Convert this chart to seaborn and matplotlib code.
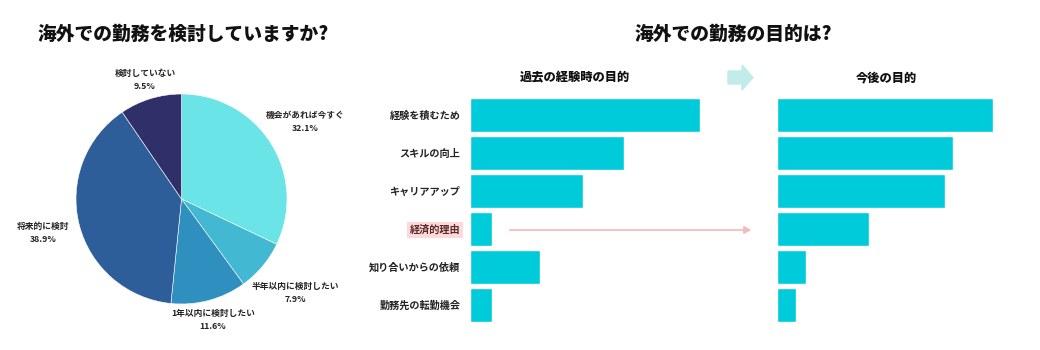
import matplotlib
matplotlib.use("Agg")
import matplotlib.pyplot as plt
import matplotlib.patches as mpatches
import seaborn as sns
import pandas as pd

# データ
pie_labels = ["機会があれば今すぐ", "半年以内に検討したい", "1年以内に検討したい", "将来的に検討", "検討していない"]
pie_values = [32.1, 7.9, 11.6, 38.9, 9.5]
pie_colors = ["#6ae4e6", "#42b8d2", "#2f8fbf", "#2d5e9a", "#2f306a"]

purposes = ["経験を積むため", "スキルの向上", "キャリアアップ", "経済的理由", "知り合いからの依頼", "勤務先の転勤機会"]
past_values = [57, 38.25, 28, 5.5, 17.25, 5.5]
future_values = [53.5, 43.75, 41.75, 22.75, 7.25, 4.75]

sns.set_theme(style="white")
plt.rcParams['font.family'] = ['Noto Sans CJK JP', 'DejaVu Sans']

W, H = 1040, 350
fig = plt.figure(figsize=(10.4, 3.5), dpi=100)
fig.patch.set_facecolor("white")

def fx(px):
    return px / W

def fy(py):
    return 1 - py / H

# 円グラフ
ax_pie = fig.add_axes([fx(76), fy(304), 211 / W, 210 / H])
ax_pie.pie(pie_values, colors=pie_colors, startangle=90, counterclock=False,
           wedgeprops=dict(edgecolor="white", linewidth=0.4), radius=1)
ax_pie.set_xlim(-1, 1)
ax_pie.set_ylim(-1, 1)
ax_pie.set_aspect("auto")
ax_pie.axis("off")

label_pos = [(305, 122), (295, 293), (213, 320), (43, 233), (145, 80)]
for lab, val, (x, y) in zip(pie_labels, pie_values, label_pos):
    fig.text(fx(x), fy(y), f"{lab}\n{val}%", ha="center", va="center",
             fontsize=6.3, fontweight="bold", color="#222222", linespacing=1.6)

fig.text(fx(183), fy(34), "海外での勤務を検討していますか?", ha="center", va="center",
         fontsize=13.5, fontweight="black", color="#111111")
fig.text(fx(733), fy(34), "海外での勤務の目的は?", ha="center", va="center",
         fontsize=13.5, fontweight="black", color="#111111")

# 棒グラフ
bar_color = "#00cbdb"
xmax = 59.5
df_past = pd.DataFrame({"purpose": purposes, "value": past_values})
df_future = pd.DataFrame({"purpose": purposes, "value": future_values})

ax1 = fig.add_axes([fx(470), fy(324), 240 / W, 228 / H])
sns.barplot(data=df_past, x="value", y="purpose", color=bar_color, width=0.89,
            saturation=1, ax=ax1, orient="h")
ax2 = fig.add_axes([fx(777), fy(324), 240 / W, 228 / H])
sns.barplot(data=df_future, x="value", y="purpose", color=bar_color, width=0.89,
            saturation=1, ax=ax2, orient="h")

for ax in (ax1, ax2):
    ax.set_xlim(0, xmax)
    ax.set_ylim(5.5, -0.5)
    ax.set_xlabel("")
    ax.set_ylabel("")
    ax.set_xticks([])
    sns.despine(ax=ax, left=True, bottom=True)
    ax.set_facecolor("none")

ax1.tick_params(axis="y", length=0, pad=7)
for t in ax1.get_yticklabels():
    t.set_fontsize(7.3)
    t.set_fontweight("bold")
    t.set_color("#222222")
    if t.get_text() == "経済的理由":
        t.set_color("#5a2a2a")
        t.set_bbox(dict(facecolor="#fdd9d9", edgecolor="none", pad=2.2))
ax2.set_yticks([])

fig.text(fx(575), fy(77), "過去の経験時の目的", ha="center", va="center",
         fontsize=8.8, fontweight="black", color="#111111")
fig.text(fx(886), fy(77), "今後の目的", ha="center", va="center",
         fontsize=8.8, fontweight="black", color="#111111")

# 矢印
arrow_big = mpatches.FancyArrow(728 / 100, (H - 77.5) / 100, 14 / 100, 0,
                                width=13 / 100, head_width=25 / 100, head_length=11 / 100,
                                color="#c2ecea", transform=fig.dpi_scale_trans)
fig.patches.append(arrow_big)

fig.add_artist(mpatches.FancyArrowPatch((fx(507), fy(230)), (fx(754), fy(230)),
                                        transform=fig.transFigure,
                                        arrowstyle="-|>,head_length=4,head_width=2.2",
                                        color="#f7b8bc", linewidth=1.2, mutation_scale=1))

fig.savefig("out.png", dpi=100, facecolor="white")
